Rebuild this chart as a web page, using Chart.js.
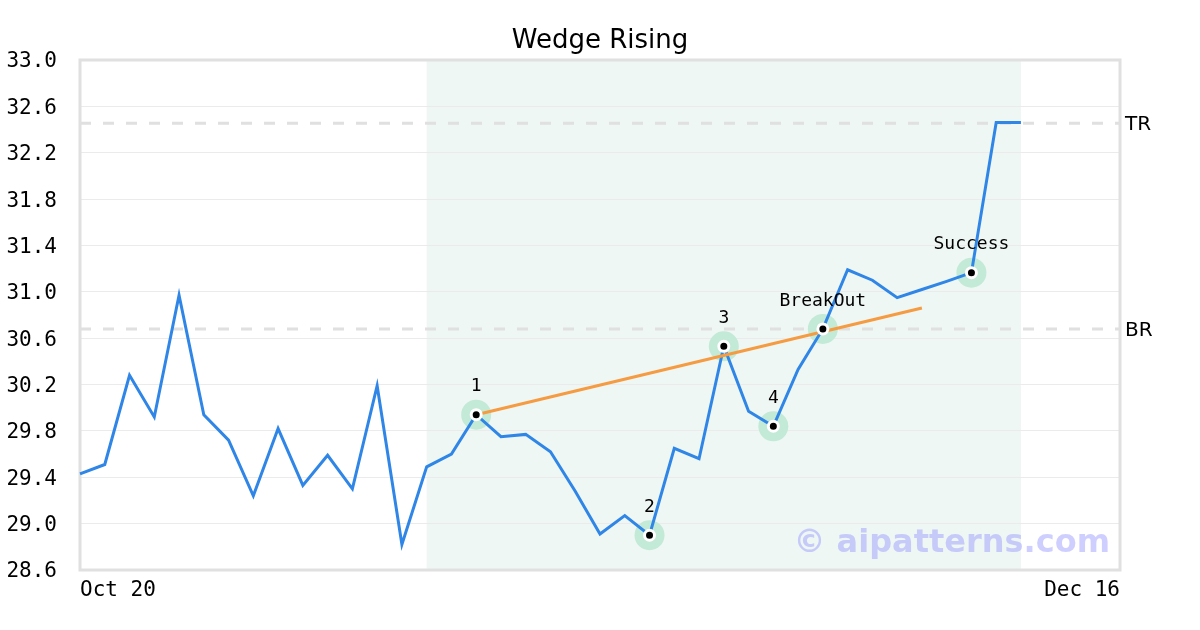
<!DOCTYPE html>
<html>
<head>
<meta charset="utf-8">
<script src="https://cdn.jsdelivr.net/npm/chart.js@4"></script>
<style>
  html, body { margin: 0; padding: 0; background: #fff; }
  #wrap { width: 1200px; height: 630px; }
</style>
</head>
<body>
<div id="wrap"><canvas id="wedgeChart"></canvas></div>
<script>
/* ─── DATA ───────────────────────────────────────────── */
const slotCount = 43;                       // x positions on the axis (last few empty)
const xTicks   = ['Oct 20', 'Dec 16'];      // only first / last are labelled
const prices   = [29.43, 29.51, 30.28, 29.92, 30.97, 29.94, 29.72, 29.24, 29.82, 29.33,
                  29.59, 29.30, 30.19, 28.82, 29.49, 29.60, 29.94, 29.75, 29.77, 29.62,
                  29.28, 28.91, 29.07, 28.90, 29.65, 29.56, 30.53, 29.97, 29.84, 30.33,
                  30.68, 31.19, 31.10, 30.95, 31.02, 31.09, 31.165, 32.46, 32.46];
const markerIdx  = [16, 23, 26, 28, 30, 36];
const markerText = ['1', '2', '3', '4', 'BreakOut', 'Success'];
const trendIdx   = [16, 34];
const trendVals  = [29.94, 30.86];
const levelNames = ['TR', 'BR'];
const levelVals  = [32.455, 30.68];
const shadeIdx   = [14, 38];
const yTicks     = { min: 28.6, max: 33.0, step: 0.4 };
const titleText  = 'Wedge Rising';

const labels = Array.from({ length: slotCount }, (_, i) => 'd' + i);
const at = (i, y) => ({ x: labels[i], y });

/* ─── PLUGINS ────────────────────────────────────────── */
const decor = {
  id: 'decor',
  beforeDraw(chart) {
    const { ctx, chartArea: a, scales: { x } } = chart;
    ctx.save();
    ctx.fillStyle = '#fff';
    ctx.fillRect(0, 0, chart.width, chart.height);
    const x0 = x.getPixelForValue(shadeIdx[0]);
    const x1 = x.getPixelForValue(shadeIdx[1]);
    ctx.fillStyle = '#eff7f4';
    ctx.fillRect(x0, a.top, x1 - x0, a.bottom - a.top);
    // title, centred on the whole canvas
    ctx.fillStyle = '#000';
    ctx.font = "26px 'DejaVu Sans'";
    ctx.textAlign = 'center';
    ctx.textBaseline = 'middle';
    ctx.fillText(titleText, chart.width / 2, 41);
    ctx.restore();
  },
  beforeDatasetsDraw(chart) {
    const { ctx, chartArea: a } = chart;
    ctx.save();
    ctx.strokeStyle = '#e0e0e0';
    ctx.lineWidth = 3;
    ctx.strokeRect(a.left, a.top, a.right - a.left, a.bottom - a.top);
    ctx.restore();
  },
  afterDraw(chart) {
    const { ctx, chartArea: a, scales: { x, y } } = chart;
    ctx.save();
    // point captions
    ctx.fillStyle = '#000';
    ctx.font = "18px 'DejaVu Sans Mono'";
    ctx.textAlign = 'center';
    ctx.textBaseline = 'middle';
    markerIdx.forEach((i, k) => {
      ctx.fillText(markerText[k], x.getPixelForValue(i), y.getPixelForValue(prices[i]) - 28);
    });
    // level names on the right
    ctx.font = "20px 'DejaVu Sans'";
    ctx.textAlign = 'left';
    levelVals.forEach((v, k) => {
      ctx.fillText(levelNames[k], a.right + 5, y.getPixelForValue(v) + 2);
    });
    // watermark
    ctx.font = "bold 32px 'DejaVu Sans'";
    ctx.fillStyle = 'rgba(130, 130, 255, 0.38)';
    ctx.textAlign = 'right';
    ctx.fillText('\u00a9 aipatterns.com', a.right - 10, a.bottom - 26);
    ctx.restore();
  }
};

/* ─── CHART ──────────────────────────────────────────── */
Chart.defaults.font.family = "'DejaVu Sans Mono', monospace";
Chart.defaults.color = '#000';

new Chart(document.getElementById('wedgeChart'), {
  type: 'line',
  data: {
    labels,
    datasets: [
      // core marker dots
      {
        data: markerIdx.map(i => at(i, prices[i])),
        showLine: false,
        pointRadius: 5,
        pointBackgroundColor: '#000',
        pointBorderColor: '#fff',
        pointBorderWidth: 3,
        order: 0
      },
      // trend line
      {
        data: trendIdx.map((i, k) => at(i, trendVals[k])),
        borderColor: '#f59b42',
        borderWidth: 3,
        pointRadius: 0,
        order: 1
      },
      // price line
      {
        data: prices,
        borderColor: '#2f86e6',
        borderWidth: 3,
        pointRadius: 0,
        tension: 0,
        order: 2
      },
      // marker halos
      {
        data: markerIdx.map(i => at(i, prices[i])),
        showLine: false,
        pointRadius: 15,
        pointBorderWidth: 0,
        pointBackgroundColor: '#c2ead6',
        order: 3
      },
      // TR / BR dashed levels
      ...levelVals.map(v => ({
        data: [at(0, v), at(slotCount - 1, v)],
        borderColor: '#e0e0e0',
        borderWidth: 3,
        borderDash: [11, 12],
        pointRadius: 0,
        order: 4
      }))
    ]
  },
  options: {
    responsive: true,
    maintainAspectRatio: false,
    animation: false,
    layout: { padding: { left: 0, right: 80, top: 60, bottom: 14 } },
    plugins: {
      legend: { display: false },
      tooltip: { enabled: false },
      title: { display: false }
    },
    scales: {
      x: {
        grid: { display: false, drawTicks: false },
        border: { display: false },
        afterFit: (s) => { s.height = 46; },
        ticks: {
          autoSkip: false,
          maxRotation: 0,
          align: 'inner',
          padding: 8,
          font: { size: 21 },
          callback: (v, i) => i === 0 ? xTicks[0] : (i === slotCount - 1 ? xTicks[1] : '')
        }
      },
      y: {
        min: yTicks.min,
        max: yTicks.max,
        grid: { color: '#ebebeb', lineWidth: 1, drawTicks: false },
        border: { display: false },
        afterFit: (s) => { s.width = 80; },
        ticks: {
          stepSize: yTicks.step,
          padding: 23,
          labelOffset: 2,
          font: { size: 21 },
          callback: (v) => Number(v).toFixed(1)
        }
      }
    }
  },
  plugins: [decor]
});
</script>
</body>
</html>
